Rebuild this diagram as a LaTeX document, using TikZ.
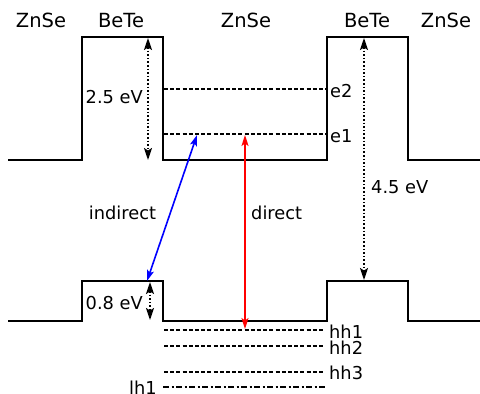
\documentclass[tikz,border=0pt]{standalone}
\usepackage{fontspec}
\setmainfont{DejaVu Sans}
\usetikzlibrary{arrows.meta}
\begin{document}
\begin{tikzpicture}[x=1pt,y=-1pt,
  band/.style={line width=2pt},
  level/.style={line width=1.4pt,dash pattern=on 4pt off 2.2pt},
  lhlevel/.style={line width=1.4pt,dash pattern=on 6pt off 2.5pt on 2pt off 2.5pt},
  gap/.style={line width=1.6pt,dotted,{Stealth[length=12pt,width=8pt,inset=2.5pt]}-{Stealth[length=12pt,width=8pt,inset=2.5pt]}},
  trans/.style={line width=1.6pt,{Stealth[length=11pt,width=7pt,inset=2.5pt]}-{Stealth[length=11pt,width=7pt,inset=2.5pt]}},
  lab/.style={font=\fontsize{17.8}{20}\selectfont,inner sep=0pt},
  ttl/.style={font=\fontsize{19.5}{22}\selectfont,inner sep=0pt,anchor=base}]
\useasboundingbox (0,0) rectangle (480,394);
% conduction band
\draw[band] (8,160) -- (82,160) -- (82,37) -- (163,37) -- (163,160) -- (327,160) -- (327,37) -- (408,37) -- (408,160) -- (480,160);
% valence band
\draw[band] (8,321) -- (82,321) -- (82,281) -- (163,281) -- (163,321) -- (327,321) -- (327,281) -- (408,281) -- (408,321) -- (480,321);
% titles
\node[ttl] (t1) at (41,27.5) {ZnSe};
\node[ttl] (t2) at (121,27.5) {BeTe};
\node[ttl] (t3) at (246,27.5) {ZnSe};
\node[ttl] (t4) at (367,27.5) {BeTe};
\node[ttl] (t5) at (446,27.5) {ZnSe};
% electron levels
\coordinate (e2l) at (164,89);
\node[lab,anchor=base west] (e2) at (330,97) {e2};
\draw[level] (e2l) -- (326,89);
\coordinate (e1l) at (164,134);
\node[lab,anchor=base west] (e1) at (330,142) {e1};
\draw[level] (e1l) -- (326,134);
% hole levels
\coordinate (hh1l) at (164,330);
\node[lab,anchor=base west] (hh1) at (329,338) {hh1};
\draw[level] (hh1l) -- (325,330);
\coordinate (hh2l) at (164,346);
\node[lab,anchor=base west] (hh2) at (329,354) {hh2};
\draw[level] (hh2l) -- (325,346);
\coordinate (hh3l) at (164,372);
\node[lab,anchor=base west] (hh3) at (329,379) {hh3};
\draw[level] (hh3l) -- (325,372);
\coordinate (lh1r) at (325,387);
\node[lab,anchor=base east] (lh1) at (157,394) {lh1};
\draw[lhlevel] (163,387) -- (lh1r);
% gaps
\coordinate (g1t) at (148,38);
\coordinate (g1b) at (148,160);
\draw[gap] (g1t) -- (g1b);
\node[lab,anchor=base east] (g1) at (143,103) {2.5 eV};
\coordinate (g2t) at (150,282);
\coordinate (g2b) at (150,320);
\draw[gap] (g2t) -- (g2b);
\node[lab,anchor=base east] (g2) at (143,309) {0.8 eV};
\coordinate (g3t) at (364,38);
\coordinate (g3b) at (364,280);
\draw[gap] (g3t) -- (g3b);
\node[lab,anchor=base west] (g3) at (371,193) {4.5 eV};
% transitions
\coordinate (ia) at (197,135);
\coordinate (ib) at (147,281);
\draw[trans,blue] (ia) -- (ib);
\node[lab,anchor=base] (ind) at (122.5,219) {indirect};
\coordinate (da) at (245,135);
\coordinate (db) at (245,329);
\draw[trans,red] (da) -- (db);
\node[lab,anchor=base west] (dir) at (251,219) {direct};
\end{tikzpicture}
\end{document}
